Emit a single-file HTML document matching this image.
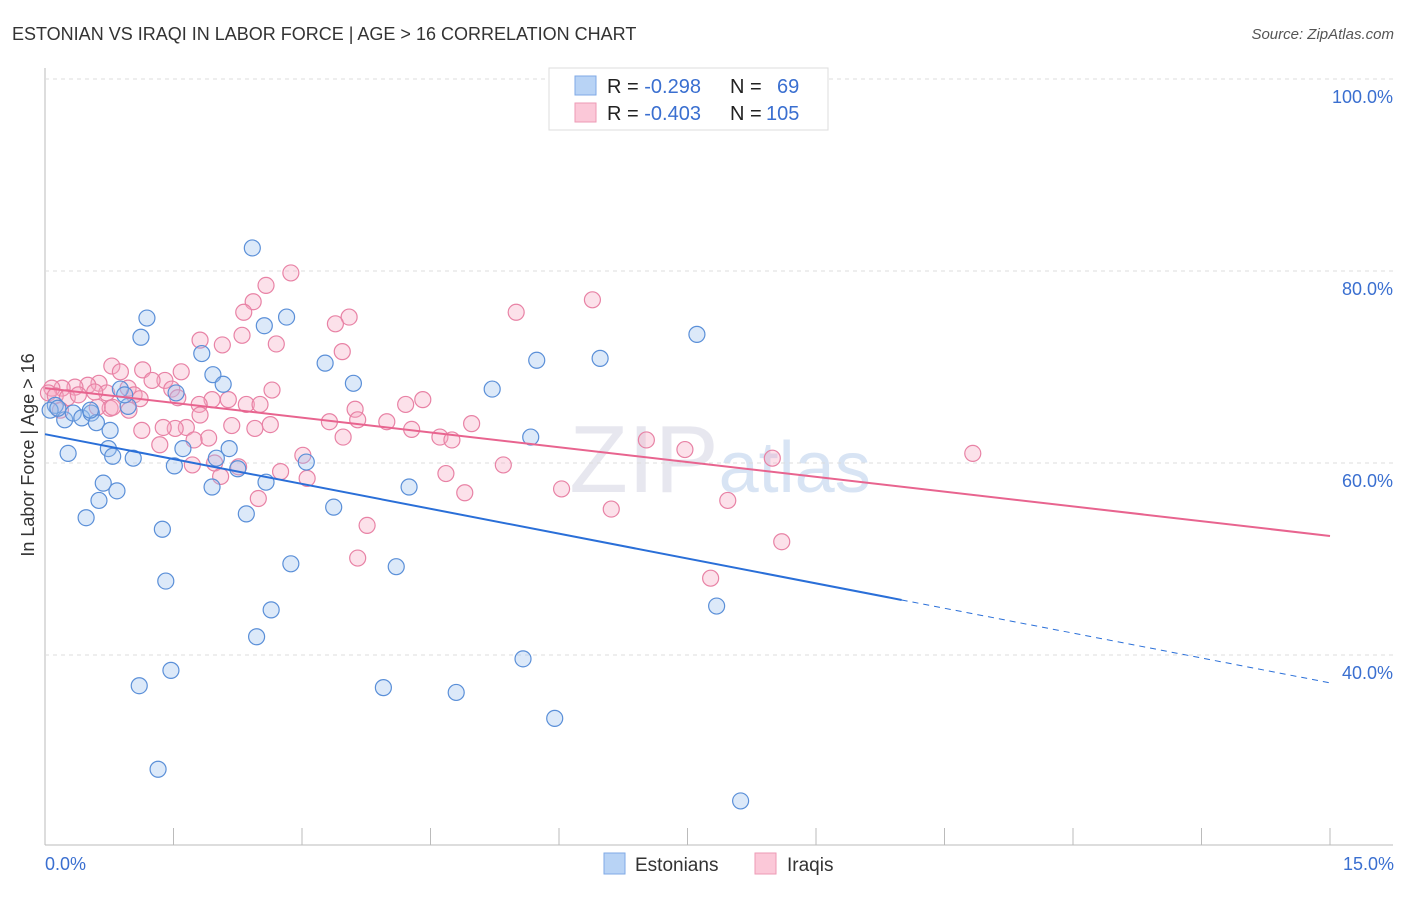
<!DOCTYPE html>
<html><head><meta charset="utf-8"><style>
body{margin:0;background:#fff;font-family:"Liberation Sans",sans-serif;}
svg text{font-family:"Liberation Sans",sans-serif;}
</style></head><body>
<svg id="c" width="1406" height="892">
<text x="12" y="40" font-size="18" fill="#333">ESTONIAN VS IRAQI IN LABOR FORCE | AGE &gt; 16 CORRELATION CHART</text>
<text x="1394" y="39" font-size="15" fill="#555" font-style="italic" text-anchor="end">Source: ZipAtlas.com</text>
<text x="720" y="492" font-size="96" fill="#ccd" opacity="0.45" text-anchor="middle" font-family="Liberation Serif">ZIP<tspan fill="#a9c4e8" font-family="Liberation Sans" font-size="72">atlas</tspan></text>
<g id="grid"></g><g id="marks"></g>
<text transform="translate(34,455) rotate(-90)" font-size="18" fill="#333" text-anchor="middle">In Labor Force | Age &gt; 16</text>
<text x="45" y="870" font-size="18" fill="#3a6fd0">0.0%</text>
<text x="1394" y="870" font-size="18" fill="#3a6fd0" text-anchor="end">15.0%</text>
<g>
<rect x="549" y="68" width="279" height="62" fill="#fff" stroke="#ddd"/>
<rect x="575" y="76" width="21" height="19" fill="#b8d3f5" stroke="#7fa9e6"/>
<rect x="575" y="103" width="21" height="19" fill="#fbc8d8" stroke="#ee9ab5"/>
<text x="607" y="93" font-size="20" fill="#222">R = <tspan fill="#3a6fd0">-0.298</tspan><tspan x="730">N = </tspan><tspan x="777" fill="#3a6fd0">69</tspan></text>
<text x="607" y="120" font-size="20" fill="#222">R = <tspan fill="#3a6fd0">-0.403</tspan><tspan x="730">N = </tspan><tspan x="766" fill="#3a6fd0">105</tspan></text>
</g>
<g>
<rect x="604" y="853" width="21" height="21" fill="#b8d3f5" stroke="#7fa9e6"/>
<text x="635" y="871" font-size="19" fill="#333">Estonians</text>
<rect x="755" y="853" width="21" height="21" fill="#fbc8d8" stroke="#ee9ab5"/>
<text x="787" y="871" font-size="19" fill="#333">Iraqis</text>
</g>
</svg>
<script>
const yTicks=[100,80,60,40];
const xTicks=[0,1.5,3,4.5,6,7.5,9,10.5,12,13.5,15];
const estX=[2.42,1.19,2.56,2.82,1.12,1.83,3.27,1.96,2.08,3.60,1.53,0.88,0.97,5.22,5.74,6.48,7.61,0.12,0.23,0.33,0.43,0.54,0.60,0.76,0.74,0.27,0.79,1.03,1.51,1.61,2.00,2.15,2.25,3.05,2.58,1.95,0.68,0.84,0.63,0.48,1.37,2.35,3.37,4.25,5.67,2.87,4.10,1.41,2.64,7.84,2.47,5.58,1.47,1.10,3.95,4.80,5.95,1.32,8.12,0.06,0.15,0.53,0.93];
const estY=[82.4,75.1,74.3,75.2,73.1,71.4,70.4,69.2,68.2,68.3,67.3,67.7,65.9,67.7,70.7,70.9,73.4,66.0,64.5,65.2,64.7,65.2,64.2,63.4,61.5,61.0,60.7,60.5,59.7,61.5,60.5,61.5,59.4,60.1,58.0,57.5,57.9,57.1,56.1,54.3,53.1,54.7,55.4,57.5,62.7,49.5,49.2,47.7,44.7,45.1,41.9,39.6,38.4,36.8,36.6,36.1,33.4,28.1,24.8,65.5,65.7,65.5,67.1];
const iraX=[2.87,2.58,2.43,2.32,5.50,6.39,3.55,3.39,2.30,1.81,2.07,2.70,3.47,0.78,1.14,0.88,1.59,1.40,1.25,0.63,0.50,0.35,0.20,0.08,0.04,0.12,0.26,0.39,0.97,1.04,1.48,0.72,1.95,2.14,2.35,2.51,2.65,1.80,1.55,1.11,0.76,0.98,0.61,3.62,4.21,4.41,3.32,3.65,3.99,4.28,4.98,2.45,2.63,2.18,1.91,1.65,1.52,1.38,1.34,1.74,1.13,4.61,4.75,3.48,3.01,3.06,1.98,2.26,2.75,1.72,2.05,4.68,5.35,7.02,7.47,8.49,10.83,4.90,6.03,6.61,7.97,2.49,3.76,3.65,8.60,7.77,0.79,0.18,0.58,1.81];
const iraY=[79.8,78.5,76.8,75.7,75.7,77.0,75.2,74.5,73.3,72.8,72.3,72.4,71.6,70.1,69.7,69.5,69.5,68.6,68.6,68.3,68.1,67.9,67.8,67.8,67.3,67.0,66.8,67.1,67.8,67.1,67.7,67.3,66.6,66.6,66.1,66.1,67.6,66.1,66.8,66.7,65.7,65.5,65.8,65.6,66.1,66.6,64.3,64.5,64.3,63.5,64.1,63.6,64.0,63.9,62.6,63.7,63.6,63.7,61.9,62.4,63.4,62.7,62.4,62.7,60.8,58.4,60.0,59.6,59.1,59.8,58.6,58.9,59.8,62.4,61.4,60.5,61.0,56.9,57.3,55.2,56.1,56.3,53.5,50.1,51.8,48.0,65.8,65.5,67.4,65.0];
const estTrend=[63.0,37.1], iraTrend=[67.8,52.4], estSolidEnd=10.0;
const NS='http://www.w3.org/2000/svg';
const X=v=>45+v*(1285/15), Y=v=>79+(100-v)*9.6;
const grid=document.getElementById('grid'), marks=document.getElementById('marks');
function mk(tag,at,par){const e=document.createElementNS(NS,tag);for(const k in at)e.setAttribute(k,at[k]);par.appendChild(e);return e;}
let ax=mk('line',{x1:45,y1:68,x2:45,y2:845,stroke:'#bbb'},grid);


let bx=mk('line',{x1:45,y1:845,x2:1393,y2:845,stroke:'#bbb'},grid);


yTicks.forEach(t=>{
 let l=mk('line',{x1:45,y1:Y(t),x2:1393,y2:Y(t),stroke:'#ddd','stroke-dasharray':'4,4'},grid);
 
 
 let tx=mk('text',{x:1393,y:Y(t)+24,'font-size':18,fill:'#3a6fd0','text-anchor':'end'},grid);
 tx.textContent=t.toFixed(1)+'%';
 
 
});
xTicks.forEach(t=>{
 let l=mk('line',{x1:X(t),y1:828,x2:X(t),y2:845,stroke:'#bbb'},grid);
 
 
});
function dots(xs,ys,fill,stroke,name){
 xs.forEach((x,i)=>{
  let c=mk('circle',{cx:X(x),cy:Y(ys[i]),r:8,fill:fill,'fill-opacity':0.35,stroke:stroke,'stroke-width':1.2},marks);
  
  
 });
}
dots(iraX,iraY,'#f7a8c2','#e882a5','iraqi-point');
dots(estX,estY,'#9cc0ef','#5a8fd8','estonian-point');
const eAt=x=>estTrend[0]+(estTrend[1]-estTrend[0])*x/15;
let t1=mk('line',{x1:X(0),y1:Y(estTrend[0]),x2:X(estSolidEnd),y2:Y(eAt(estSolidEnd)),stroke:'#2a6fd8','stroke-width':2},marks);


let t2=mk('line',{x1:X(estSolidEnd),y1:Y(eAt(estSolidEnd)),x2:X(15),y2:Y(estTrend[1]),stroke:'#2a6fd8','stroke-width':1,'stroke-dasharray':'6,5'},marks);


let t3=mk('line',{x1:X(0),y1:Y(iraTrend[0]),x2:X(15),y2:Y(iraTrend[1]),stroke:'#e8648f','stroke-width':2},marks);


</script>
</body></html>
